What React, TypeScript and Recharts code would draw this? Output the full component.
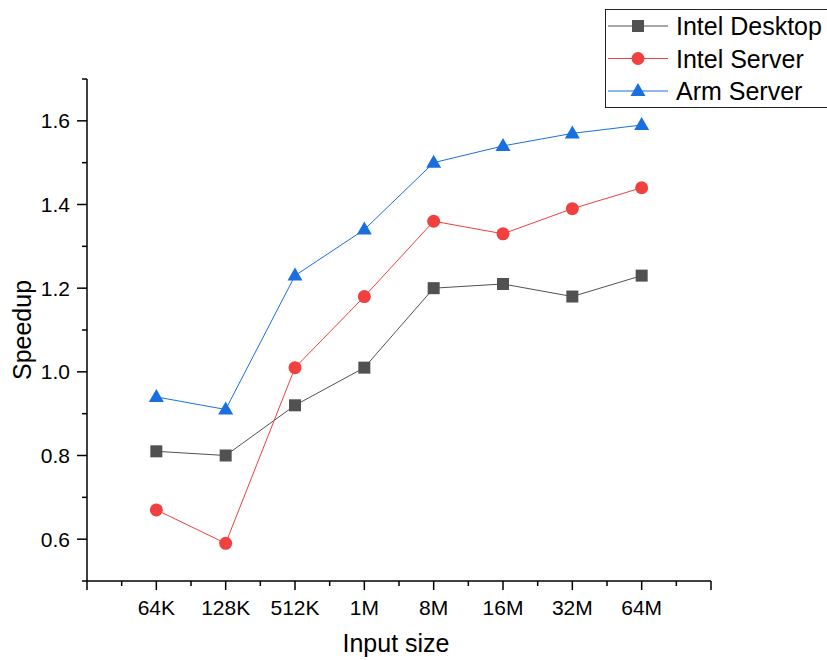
import { LineChart, Line, XAxis, YAxis } from 'recharts'

// ─── data ─────────────────────────────────────────────────────────────

const SIZES = ['64K', '128K', '512K', '1M', '8M', '16M', '32M', '64M']
const INTEL_DESKTOP = [0.81, 0.80, 0.92, 1.01, 1.20, 1.21, 1.18, 1.23]
const INTEL_SERVER  = [0.67, 0.59, 1.01, 1.18, 1.36, 1.33, 1.39, 1.44]
const ARM_SERVER    = [0.94, 0.91, 1.23, 1.34, 1.50, 1.54, 1.57, 1.59]

const X_TICKS = [0, 0.5, 1, 1.5, 2, 2.5, 3, 3.5, 4, 4.5, 5, 5.5, 6, 6.5, 7, 7.5, 8, 8.5, 9]
const Y_TICKS = [0.5, 0.6, 0.7, 0.8, 0.9, 1.0, 1.1, 1.2, 1.3, 1.4, 1.5, 1.6, 1.7]

const FONT = '"Liberation Sans", Arial, sans-serif'

type Shape = 'square' | 'circle' | 'triangle'

const SERIES: { key: string; name: string; color: string; shape: Shape }[] = [
  { key: 'desktop', name: 'Intel Desktop', color: '#515151', shape: 'square' },
  { key: 'server',  name: 'Intel Server',  color: '#f14040', shape: 'circle' },
  { key: 'arm',     name: 'Arm Server',    color: '#1a6fdf', shape: 'triangle' },
]

const data = SIZES.map((s, i) => ({
  x: i + 1,
  size: s,
  desktop: INTEL_DESKTOP[i],
  server: INTEL_SERVER[i],
  arm: ARM_SERVER[i],
}))

// ─── helpers ──────────────────────────────────────────────────────────

function Marker({ cx, cy, shape, color }: { cx: number; cy: number; shape: Shape; color: string }) {
  if (shape === 'square') {
    return <rect x={cx - 6} y={cy - 6} width={12} height={12} fill={color} />
  }
  if (shape === 'circle') {
    return <circle cx={cx} cy={cy} r={6.5} fill={color} />
  }
  return (
    <polygon
      points={`${cx},${cy - 8} ${cx - 7.5},${cy + 5} ${cx + 7.5},${cy + 5}`}
      fill={color}
    />
  )
}

function XTick({ x, y, payload }: any) {
  const v = payload.value as number
  const major = Number.isInteger(v)
  const label = major && v >= 1 && v <= SIZES.length ? SIZES[v - 1] : null
  return (
    <g>
      <line x1={x} x2={x} y1={y} y2={y + (major ? 9 : 5)} stroke="#000" strokeWidth={1.5} />
      {label && (
        <text x={x} y={y + 34} textAnchor="middle" fontSize={21} fontFamily={FONT} fill="#000">
          {label}
        </text>
      )}
    </g>
  )
}

function YTick({ x, y, payload }: any) {
  const v = payload.value as number
  const major = Math.round(v * 10) % 2 === 0
  return (
    <g>
      <line x1={x} x2={x - (major ? 10 : 5)} y1={y} y2={y} stroke="#000" strokeWidth={1.5} />
      {major && (
        <text x={x - 17} y={y + 7.5} textAnchor="end" fontSize={21} fontFamily={FONT} fill="#000">
          {v.toFixed(1)}
        </text>
      )}
    </g>
  )
}

function LegendBox() {
  return (
    <div
      style={{
        position: 'absolute', left: 605, top: 9, width: 230, height: 99,
        border: '1.5px solid #222', background: '#fff', boxSizing: 'border-box',
      }}
    >
      <svg width={230} height={96} style={{ display: 'block' }}>
        {SERIES.map((s, i) => {
          const cy = 16 + i * 32.5
          return (
            <g key={s.key}>
              <line x1={2} x2={62} y1={cy} y2={cy} stroke={s.color} strokeWidth={1} />
              <Marker cx={32} cy={cy} shape={s.shape} color={s.color} />
              <text x={70} y={cy + 9} fontSize={25} fontFamily={FONT} fill="#000">
                {s.name}
              </text>
            </g>
          )
        })}
      </svg>
    </div>
  )
}

export default function App() {
  return (
    <div style={{ position: 'absolute', left: 0, top: 0, width: 827, height: 660, background: '#fff' }}>
      <LineChart
        width={827}
        height={660}
        data={data}
        margin={{ top: 79, right: 116, bottom: 19, left: 27 }}
      >
        <XAxis
          dataKey="x"
          type="number"
          domain={[0, 9]}
          ticks={X_TICKS}
          interval={0}
          tick={<XTick />}
          tickLine={false}
          tickSize={0}
          tickMargin={0}
          height={60}
          axisLine={{ stroke: '#000', strokeWidth: 1.5 }}
          label={{
            content: ({ viewBox }: any) => (
              <text
                x={viewBox.x + viewBox.width / 2 - 3}
                y={viewBox.y + 71}
                textAnchor="middle"
                fontSize={25}
                fontFamily={FONT}
                fill="#000"
              >
                Input size
              </text>
            ),
          }}
        />
        <YAxis
          type="number"
          domain={[0.5, 1.7]}
          ticks={Y_TICKS}
          interval={0}
          tick={<YTick />}
          tickLine={false}
          tickSize={0}
          tickMargin={0}
          width={60}
          axisLine={{ stroke: '#000', strokeWidth: 1.5 }}
          label={{
            content: ({ viewBox }: any) => {
              const cx = viewBox.x + 4
              const cy = viewBox.y + viewBox.height / 2
              return (
                <text
                  x={cx}
                  y={cy}
                  transform={`rotate(-90, ${cx}, ${cy})`}
                  textAnchor="middle"
                  fontSize={25}
                  fontFamily={FONT}
                  fill="#000"
                >
                  Speedup
                </text>
              )
            },
          }}
        />
        {SERIES.map((s) => (
          <Line
            key={s.key}
            type="linear"
            dataKey={s.key}
            name={s.name}
            stroke={s.color}
            strokeWidth={1}
            dot={(p: any) => (
              <Marker key={`${s.key}-${p.index}`} cx={p.cx} cy={p.cy} shape={s.shape} color={s.color} />
            )}
            activeDot={false}
            isAnimationActive={false}
          />
        ))}
      </LineChart>
      <LegendBox />
    </div>
  )
}
